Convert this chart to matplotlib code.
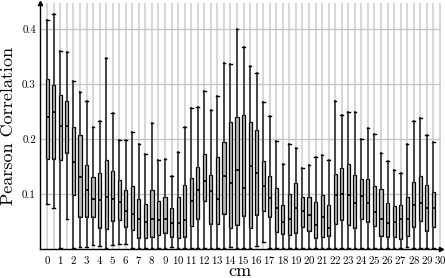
import numpy as np
import matplotlib.pyplot as plt

plt.rcParams['font.family'] = 'serif'
plt.rcParams['font.serif'] = ['cmr10', 'DejaVu Serif']
plt.rcParams['axes.formatter.use_mathtext'] = True

# one box every half cm, 0 .. 29.5
positions = np.arange(60) * 0.5

whisker_high = [0.416, 0.428, 0.361, 0.359, 0.305, 0.285, 0.270, 0.223, 0.233, 0.347,
                0.248, 0.199, 0.199, 0.213, 0.191, 0.173, 0.230, 0.162, 0.164, 0.133,
                0.177, 0.223, 0.256, 0.259, 0.288, 0.253, 0.278, 0.339, 0.336, 0.400,
                0.368, 0.334, 0.321, 0.267, 0.242, 0.196, 0.156, 0.192, 0.185, 0.147,
                0.153, 0.168, 0.171, 0.162, 0.270, 0.245, 0.249, 0.249, 0.201, 0.221,
                0.209, 0.175, 0.160, 0.145, 0.139, 0.191, 0.234, 0.238, 0.207, 0.195]
q3 = [0.309, 0.299, 0.280, 0.269, 0.222, 0.208, 0.153, 0.132, 0.139, 0.162,
      0.142, 0.126, 0.107, 0.116, 0.091, 0.082, 0.107, 0.087, 0.096, 0.075,
      0.096, 0.117, 0.129, 0.150, 0.174, 0.136, 0.168, 0.195, 0.232, 0.241,
      0.244, 0.232, 0.216, 0.161, 0.133, 0.111, 0.081, 0.100, 0.120, 0.095,
      0.096, 0.086, 0.099, 0.081, 0.137, 0.147, 0.155, 0.136, 0.128, 0.127,
      0.116, 0.109, 0.084, 0.078, 0.081, 0.095, 0.122, 0.133, 0.117, 0.104]
median = [0.240, 0.250, 0.225, 0.225, 0.158, 0.132, 0.108, 0.091, 0.090, 0.096,
          0.092, 0.086, 0.070, 0.064, 0.056, 0.049, 0.055, 0.053, 0.056, 0.047,
          0.047, 0.053, 0.087, 0.108, 0.124, 0.106, 0.091, 0.134, 0.121, 0.145,
          0.111, 0.152, 0.139, 0.116, 0.093, 0.075, 0.050, 0.056, 0.076, 0.070,
          0.062, 0.045, 0.058, 0.039, 0.098, 0.101, 0.098, 0.084, 0.097, 0.085,
          0.068, 0.056, 0.047, 0.049, 0.056, 0.055, 0.080, 0.085, 0.076, 0.076]
q1 = [0.164, 0.165, 0.162, 0.175, 0.099, 0.058, 0.058, 0.058, 0.038, 0.037,
      0.052, 0.053, 0.040, 0.036, 0.020, 0.020, 0.023, 0.027, 0.030, 0.022,
      0.020, 0.022, 0.042, 0.056, 0.087, 0.046, 0.046, 0.064, 0.038, 0.044,
      0.061, 0.039, 0.062, 0.070, 0.059, 0.031, 0.028, 0.027, 0.030, 0.041,
      0.033, 0.021, 0.023, 0.024, 0.046, 0.053, 0.044, 0.038, 0.055, 0.049,
      0.042, 0.025, 0.022, 0.023, 0.019, 0.025, 0.041, 0.052, 0.034, 0.041]
whisker_low = [0.083, 0.076, 0.003, 0.056, 0.002, 0.005, 0.004, 0.008, 0.006, 0.003,
               0.008, 0.010, 0.009, 0.002, 0.002, 0.002, 0.002, 0.002, 0.002, 0.005,
               0.002, 0.002, 0.002, 0.002, 0.002, 0.002, 0.002, 0.002, 0.005, 0.002,
               0.002, 0.002, 0.007, 0.013, 0.002, 0.002, 0.002, 0.002, 0.002, 0.002,
               0.002, 0.002, 0.002, 0.002, 0.002, 0.003, 0.002, 0.002, 0.002, 0.002,
               0.002, 0.002, 0.002, 0.002, 0.002, 0.005, 0.002, 0.002, 0.002, 0.002]

stats = []
for lo, a, m, b, hi in zip(whisker_low, q1, median, q3, whisker_high):
    stats.append(dict(whislo=lo, q1=a, med=m, q3=b, whishi=hi, label=''))

fig = plt.figure(figsize=(4.45, 2.78), dpi=100)
ax = fig.add_axes([0.09, 0.103, 0.9, 0.887])

ax.bxp(stats, positions=positions, widths=0.24, patch_artist=True,
       showfliers=False, manage_ticks=False, capwidths=0.2,
       boxprops=dict(facecolor='#b8b8b8', edgecolor='black', linewidth=0.9),
       whiskerprops=dict(color='#3a3a3a', linewidth=1.3),
       capprops=dict(color='black', linewidth=1.0),
       medianprops=dict(color='black', linewidth=1.2))

ax.set_xlim(-0.55, 30.05)
ax.set_ylim(0, 0.448)
ax.set_xticks(np.arange(31))
ax.set_xticks(positions, minor=True)
ax.set_yticks([0.1, 0.2, 0.3, 0.4])
ax.set_yticklabels(['0.1', '0.2', '0.3', '0.4'])
ax.set_axisbelow(True)
ax.grid(axis='x', which='both', color='#d8d8d8', linewidth=1.5)
ax.grid(axis='y', which='major', color='#c4c4c4', linewidth=0.9)
ax.tick_params(which='both', length=0, labelsize=7.8, pad=3)

for s in ['top', 'right']:
    ax.spines[s].set_visible(False)
for s in ['left', 'bottom']:
    ax.spines[s].set_linewidth(1.0)
ax.plot(1, 0, '>k', transform=ax.transAxes, clip_on=False, markersize=3)
ax.plot(0, 1, '^k', transform=ax.transAxes, clip_on=False, markersize=3)

ax.set_xlabel('cm', fontsize=13, labelpad=-1)
ax.set_ylabel('Pearson Correlation', fontsize=13, labelpad=4)

fig.savefig('out.png', dpi=100)
